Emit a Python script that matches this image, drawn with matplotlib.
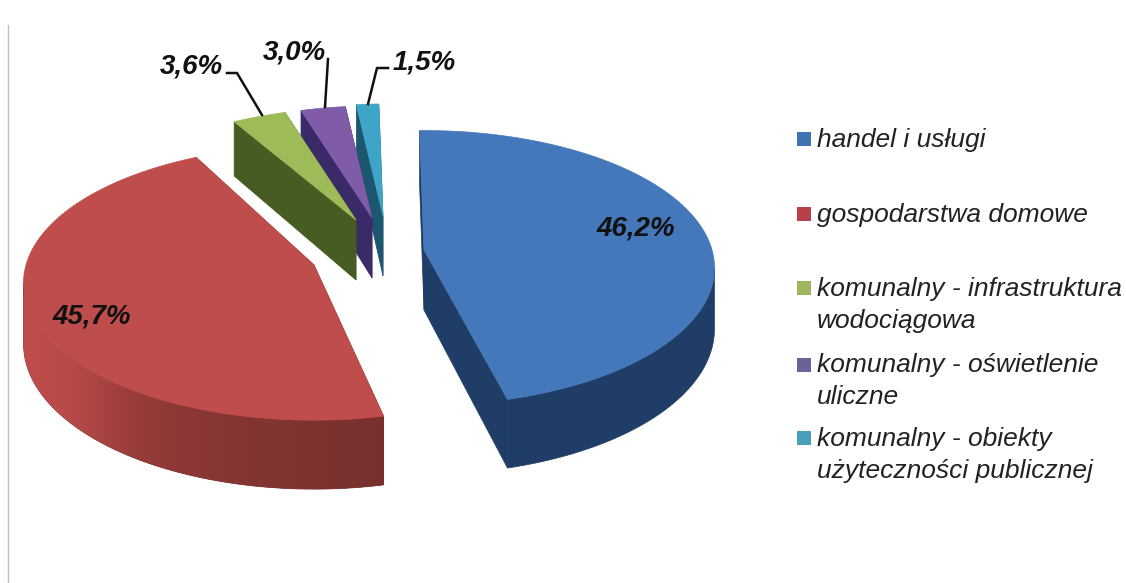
import numpy as np
import matplotlib
matplotlib.use('Agg')
import matplotlib.pyplot as plt
from matplotlib.patches import Polygon, Rectangle

categories = ['handel i usługi', 'gospodarstwa domowe',
              'komunalny - infrastruktura\nwodociągowa',
              'komunalny - oświetlenie\nuliczne',
              'komunalny - obiekty\nużyteczności publicznej']
shares = [46.2, 45.7, 3.6, 3.0, 1.5]
share_labels = ['46,2%', '45,7%', '3,6%', '3,0%', '1,5%']

top_colors = ['#4578ba', '#bf4d4b', '#9dbb58', '#7f5ba8', '#3fa5c8']
side_colors = ['#1f3d66', '#78302e', '#465c22', '#3a2a68', '#1c566f']
legend_colors = ['#3f73b4', '#b8404a', '#9fb45c', '#6b6398', '#4a9fb8']

# pie layout, in pixels of the picture
center = (375, 253)
offsets = [(49, -3), (-61, 12), (-19, -33), (-3, -35), (8, -37)]
radius_scale = [1, 1, 0.93, 0.93, 0.93]
# small turn of each wedge's two cut edges, the 3d view skews them
edge_turn = [(0, 0), (2.5, 3), (0, 0), (0, 0), (0, 0)]
rx, ry = 288, 135
depth = 60
persp = 0.13
start_angle = -1

label_pos = [(636, 228), (92, 317), (191, 67), (294, 53), (424, 62)]
leaders = [None, None,
           [(227, 73), (237, 73), (262, 115)],
           [(328, 59), (325, 107)],
           [(388, 68), (377, 68), (368, 104)]]
legend_rows = [139, 214, 288, 365, 438]
legend_text_rows = [140, 215, 305, 381, 455]


def project(cx, cy, theta, scale=1.0, drop=0.0):
    # theta clockwise from 12 o'clock, simple perspective towards the viewer
    t = np.radians(theta)
    v = -np.cos(t) * scale
    f = 1 / (1 - persp * v)
    x = cx + rx * np.sin(t) * scale * f
    y = cy + (ry * v + drop) * f
    return np.column_stack([np.atleast_1d(x), np.atleast_1d(y)])


def mix(c1, c2, t):
    a = np.array(matplotlib.colors.to_rgb(c1))
    b = np.array(matplotlib.colors.to_rgb(c2))
    return a + (b - a) * t


def draw_wedge(ax, i, a0, a1):
    cx = center[0] + offsets[i][0]
    cy = center[1] + offsets[i][1]
    s = radius_scale[i]
    z = 10 - i
    apex = np.array([[cx, cy]])
    apex_low = project(cx, cy, 90, 0.0, depth)

    # cut faces
    for a in (a0, a1):
        outer = project(cx, cy, a, s)
        outer_low = project(cx, cy, a, s, depth)
        pts = np.vstack([apex, outer, outer_low, apex_low])
        ax.add_patch(Polygon(pts, closed=True, fc=side_colors[i], ec=side_colors[i], lw=0.5, zorder=z))

    # outer rim, only the part turned to the viewer (between the silhouette tangents)
    tangent = np.degrees(np.arccos(-persp))
    lo, hi = max(a0, tangent), min(a1, 360 - tangent)
    if lo < hi:
        angles = np.linspace(lo, hi, 200)
        pts = np.vstack([project(cx, cy, angles, s), project(cx, cy, angles[::-1], s, depth)])
        rim = Polygon(pts, closed=True, fc=side_colors[i], ec=side_colors[i], lw=0.5, zorder=z + 0.1)
        ax.add_patch(rim)
        if i == 1:
            # red rim fades into the top on the left side
            xs = np.linspace(pts[:, 0].min(), pts[:, 0].max(), 300)
            t = np.interp(xs, [25, 70, 140, 220, 385], [0.0, 0.1, 0.6, 0.8, 1.0])
            grad = np.array([[mix(top_colors[i], side_colors[i], v) for v in t]])
            im = ax.imshow(grad, extent=[xs[0], xs[-1], pts[:, 1].max(), pts[:, 1].min()],
                           aspect='auto', zorder=z + 0.15)
            im.set_clip_path(rim)

    # top surface
    arc = project(cx, cy, np.linspace(a0, a1, 200), s)
    ax.add_patch(Polygon(np.vstack([apex, arc]), closed=True, fc=top_colors[i], ec=top_colors[i], lw=0.5, zorder=z + 0.2))


def main():
    fig = plt.figure(figsize=(11.26, 5.83), dpi=100)
    ax = fig.add_axes([0, 0, 1, 1])
    ax.axis('off')

    ax.plot([8, 8], [25, 583], color='#c0c0c0', lw=1)

    edges = start_angle + np.cumsum([0] + shares) * 3.6
    for i in range(len(shares)):
        draw_wedge(ax, i, edges[i] + edge_turn[i][0], edges[i + 1] + edge_turn[i][1])

    ax.set_xlim(0, 1126)
    ax.set_ylim(583, 0)

    for i, txt in enumerate(share_labels):
        ax.text(label_pos[i][0], label_pos[i][1], txt, family='Liberation Sans', style='italic', weight='bold',
                fontsize=20, color='#111111', ha='center', va='center', zorder=20)
        if leaders[i] is not None:
            xs, ys = zip(*leaders[i])
            ax.plot(xs, ys, color='#111111', lw=1.8, zorder=19)

    for i, txt in enumerate(categories):
        ax.add_patch(Rectangle((797, legend_rows[i] - 7), 14, 14, fc=legend_colors[i], ec='none'))
        ax.text(817, legend_text_rows[i], txt, family='Liberation Sans', style='italic', fontsize=19,
                color='#222222', ha='left', va='center', linespacing=1.38)

    fig.savefig('out.png', dpi=100, facecolor='white')


if __name__ == '__main__':
    main()
